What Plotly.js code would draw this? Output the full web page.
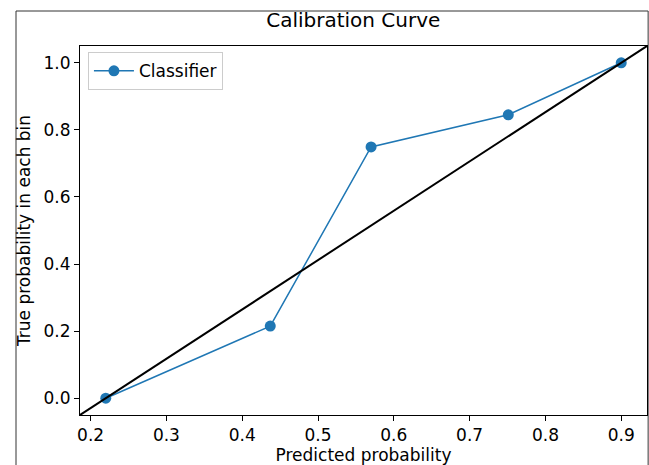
<!DOCTYPE html>
<html>
<head>
<meta charset="utf-8">
<script src="https://cdn.plot.ly/plotly-3.0.1.min.js"></script>
<style>
  html, body { margin: 0; padding: 0; background: #fff; overflow: hidden; }
  #chart { width: 649px; height: 465px; }
</style>
</head>
<body>
<div id="chart"></div>
<script>
// Data
const predicted = [0.22, 0.437, 0.57, 0.751, 0.9];
const trueProb = [0.0, 0.215, 0.749, 0.845, 1.0];
const diagX = [0.186, 0.934];
const diagY = [-0.05, 1.05];
const xTicks = [0.2, 0.3, 0.4, 0.5, 0.6, 0.7, 0.8, 0.9];
const yTicks = [0.0, 0.2, 0.4, 0.6, 0.8, 1.0];

const font = "DejaVu Sans, sans-serif";

const traces = [
  {
    x: predicted, y: trueProb, type: 'scatter', mode: 'lines+markers',
    name: 'Classifier',
    line: { color: '#1f77b4', width: 1.5 },
    marker: { color: '#1f77b4', size: 11 },
    cliponaxis: true
  },
  {
    x: diagX, y: diagY, type: 'scatter', mode: 'lines',
    showlegend: false, hoverinfo: 'skip',
    line: { color: '#000000', width: 2 }
  }
];

const layout = {
  width: 649, height: 465,
  margin: { l: 80, r: 2, t: 46, b: 50, pad: 0 },
  paper_bgcolor: '#fff', plot_bgcolor: '#fff',
  font: { family: font, size: 17, color: '#000' },
  title: {
    text: 'Calibration Curve',
    font: { family: font, size: 20, color: '#000' },
    x: 0.482, xanchor: 'center', xref: 'paper',
    y: 0.957, yanchor: 'middle', yref: 'container'
  },
  xaxis: {
    range: [0.186, 0.934],
    tickvals: xTicks, ticktext: xTicks.map(v => v.toFixed(1)),
    ticks: 'outside', ticklen: 5, tickwidth: 1, tickcolor: '#000',
    showline: true, mirror: true, linecolor: '#000', linewidth: 1,
    showgrid: false, zeroline: false,
    tickfont: { family: font, size: 17, color: '#000' },
    title: { text: 'Predicted probability', font: { family: font, size: 17, color: '#000' }, standoff: 6 }
  },
  yaxis: {
    range: [-0.05, 1.05],
    tickvals: yTicks, ticktext: yTicks.map(v => v.toFixed(1)),
    ticks: 'outside', ticklen: 5, tickwidth: 1, tickcolor: '#000',
    showline: true, mirror: true, linecolor: '#000', linewidth: 1,
    showgrid: false, zeroline: false,
    tickfont: { family: font, size: 17, color: '#000' },
    title: { text: 'True probability in each bin', font: { family: font, size: 17, color: '#000' }, standoff: 8 }
  },
  legend: {
    x: 0.014, y: 0.983, xanchor: 'left', yanchor: 'top',
    bgcolor: 'rgba(255,255,255,0.8)', bordercolor: '#cccccc', borderwidth: 1,
    font: { family: font, size: 17, color: '#000' },
    itemwidth: 40
  },
  showlegend: true,
  shapes: [
    {
      type: 'rect', xref: 'paper', yref: 'paper',
      x0: (16 - 80) / 567, x1: 1.002, y0: -0.3, y1: 1 + 35 / 369,
      line: { color: '#333', width: 1 }, fillcolor: 'rgba(0,0,0,0)', layer: 'below'
    }
  ]
};

Plotly.newPlot('chart', traces, layout, { displayModeBar: false, staticPlot: true });
</script>
</body>
</html>
